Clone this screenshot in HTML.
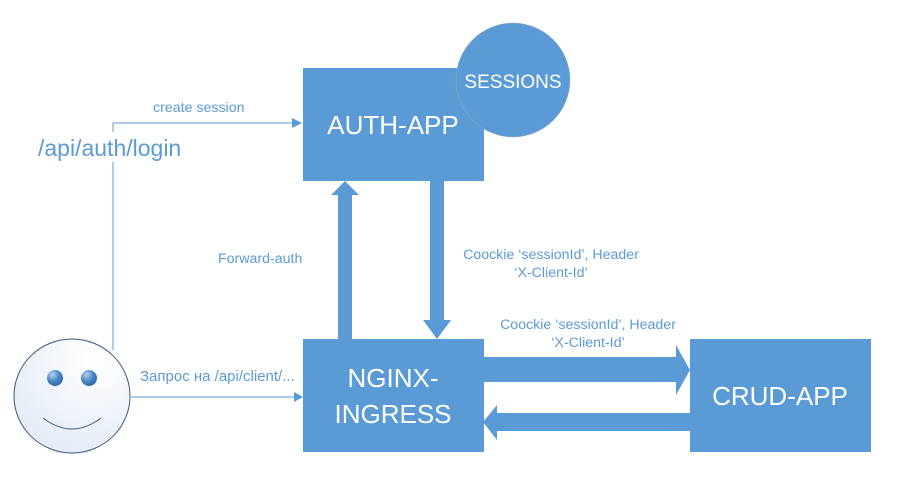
<!DOCTYPE html>
<html><head><meta charset="utf-8"><style>
body{margin:0;background:#fff;}
svg text{font-family:"Liberation Sans","Noto Sans CJK SC",sans-serif;}
</style></head><body>
<svg width="902" height="486" viewBox="0 0 902 486" xmlns="http://www.w3.org/2000/svg">
<defs>
<radialGradient id="face" cx="0.7" cy="0.2" r="1">
<stop offset="0" stop-color="#ffffff"/><stop offset="1" stop-color="#dfe8f4"/>
</radialGradient>
<radialGradient id="eye" cx="0.35" cy="0.3" r="0.8">
<stop offset="0" stop-color="#b9d4f0"/><stop offset="0.5" stop-color="#4a88c8"/><stop offset="1" stop-color="#2a62a4"/>
</radialGradient>
</defs>
<g fill="#5b9bd5">
<polyline points="113,350 113,123 292,123" fill="none" stroke="#5b9bd5" stroke-width="1"/>
<polygon points="292,118 302,123 292,128"/>
<rect x="30" y="132" width="170" height="30" fill="#fff"/>
<line x1="131" y1="397" x2="294" y2="397" stroke="#5b9bd5" stroke-width="1"/>
<polygon points="294,392 303,397 294,402"/>
<rect x="303" y="68" width="181" height="113"/>
<circle cx="513" cy="80" r="57" stroke="#9ab" stroke-width="0.5"/>
<rect x="338" y="194" width="14" height="145"/>
<polygon points="331,195 345,181 359,195"/>
<rect x="430" y="181" width="14" height="140"/>
<polygon points="423,320 437,339 451,320"/>
<rect x="303" y="339" width="181" height="113"/>
<rect x="690" y="339" width="181" height="113"/>
<rect x="484" y="357" width="192" height="25"/>
<polygon points="676,345 690,370 676,395"/>
<rect x="497" y="413" width="193" height="18"/>
<polygon points="497,405 483,422 497,440"/>
</g>
<ellipse cx="72" cy="396" rx="58" ry="57" fill="url(#face)" stroke="#3b5a80" stroke-width="1"/>
<ellipse cx="55" cy="378" rx="8" ry="8" fill="url(#eye)"/>
<ellipse cx="89" cy="378" rx="8" ry="8" fill="url(#eye)"/>
<path d="M43,418 Q72,440 101,418" fill="none" stroke="#3b5a80" stroke-width="1"/>
<g fill="#fff" text-anchor="middle">
<text x="393" y="134" font-size="26">AUTH-APP</text>
<text x="513" y="88" font-size="19">SESSIONS</text>
<text x="393" y="387" font-size="26">NGINX-</text>
<text x="393" y="423" font-size="26">INGRESS</text>
<text x="780" y="405" font-size="26">CRUD-APP</text>
</g>
<g fill="#5b9bd5" font-size="14.2">
<text x="153" y="112">create session</text>
<text x="38" y="156" font-size="23">/api/auth/login</text>
<text x="218" y="263">Forward-auth</text>
<text x="551" y="259" text-anchor="middle">Coockie ‘sessionId’, Header</text>
<text x="551" y="277" text-anchor="middle">‘X-Client-Id’</text>
<text x="588" y="329" text-anchor="middle">Coockie ‘sessionId’, Header</text>
<text x="588" y="347" text-anchor="middle">‘X-Client-Id’</text>
<text x="140" y="381" font-size="15">Запрос на /api/client/...</text>
</g>
</svg>
</body></html>
